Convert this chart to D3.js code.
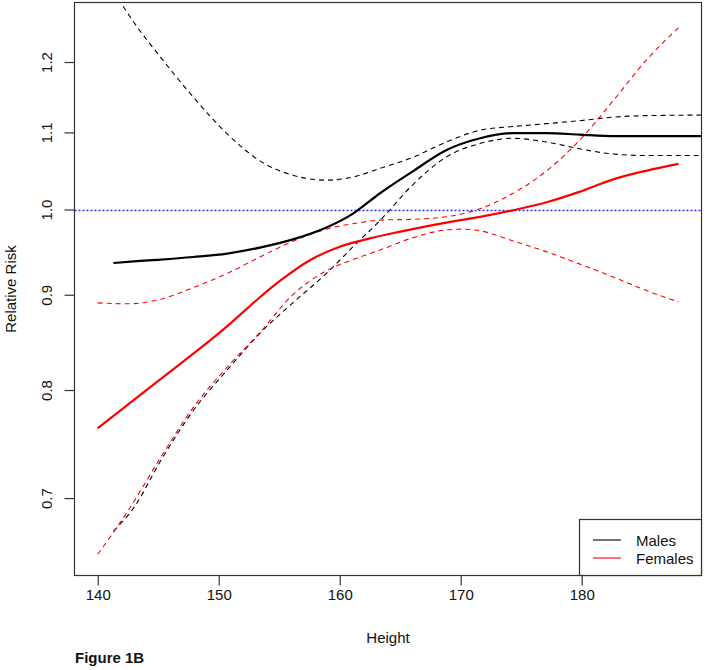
<!DOCTYPE html>
<html>
<head>
<meta charset="utf-8">
<script src="https://cdn.jsdelivr.net/npm/d3@7"></script>
<style>
  html, body { margin: 0; padding: 0; background: #fff; }
  svg { display: block; }
  text { font-family: "Liberation Sans", Arial, Helvetica, sans-serif; fill: #111; }
</style>
</head>
<body>
<svg id="chart" width="706" height="670"></svg>
<script>
// ---- Data ----
const xTicks = [140, 150, 160, 170, 180];
const yTicks = [0.7, 0.8, 0.9, 1.0, 1.1, 1.2];
const yTickLabels = ["0.7", "0.8", "0.9", "1.0", "1.1", "1.2"];

const maleHeight = [141.3, 143.0, 145.2, 147.9, 150.7, 153.4, 156.2, 158.9, 161.1, 163.3, 166.1, 168.8, 171.6, 174.3, 177.1, 179.8, 182.6, 185.3, 192.0];
const maleRR     = [0.936, 0.938, 0.940, 0.943, 0.947, 0.954, 0.964, 0.978, 0.995, 1.020, 1.049, 1.076, 1.092, 1.099, 1.099, 1.097, 1.095, 1.095, 1.095];
const maleUpper  = [1.310, 1.260, 1.207, 1.149, 1.098, 1.062, 1.043, 1.037, 1.041, 1.052, 1.067, 1.087, 1.103, 1.108, 1.112, 1.116, 1.121, 1.123, 1.124];
const maleLower  = [0.672, 0.692, 0.733, 0.780, 0.820, 0.858, 0.892, 0.924, 0.955, 0.986, 1.032, 1.067, 1.085, 1.092, 1.087, 1.078, 1.071, 1.069, 1.069];

const femaleHeight = [140.0, 142.5, 145.2, 147.9, 150.7, 153.4, 156.2, 158.9, 161.7, 163.3, 166.1, 168.8, 170.2, 171.6, 174.3, 177.1, 179.8, 182.6, 185.3, 188.0];
const femaleUpper  = [0.891, 0.890, 0.895, 0.908, 0.924, 0.943, 0.962, 0.976, 0.984, 0.987, 0.988, 0.991, 0.995, 1.001, 1.020, 1.049, 1.089, 1.144, 1.202, 1.252];
const femaleLower  = [0.653, 0.689, 0.736, 0.783, 0.823, 0.859, 0.901, 0.927, 0.943, 0.951, 0.966, 0.975, 0.976, 0.974, 0.962, 0.949, 0.935, 0.920, 0.905, 0.892];

const femaleRRHeight = [140.0, 145.0, 150.0, 155.0, 157.5, 160.0, 162.5, 165.0, 168.8, 171.6, 174.3, 177.1, 179.8, 182.6, 185.3, 188.0];
const femaleRR       = [0.763, 0.809, 0.858, 0.915, 0.939, 0.955, 0.965, 0.973, 0.984, 0.991, 0.999, 1.009, 1.022, 1.038, 1.049, 1.058];

const refLine = 1.0;
const legendLabels = ["Males", "Females"];
const legendColors = ["#000000", "#ff0000"];

// ---- Layout ----
const plot = { left: 74.5, right: 701.5, top: 2.5, bottom: 575.5 };
const svg = d3.select("#chart");

const x = d3.scaleLinear().domain([138.08, 189.9]).range([plot.left, plot.right]);
const y = d3.scaleLog().domain([0.6361, 1.2916]).range([plot.bottom, plot.top]);

svg.append("defs").append("clipPath").attr("id", "clip")
  .append("rect")
  .attr("x", plot.left).attr("y", plot.top)
  .attr("width", plot.right - plot.left).attr("height", plot.bottom - plot.top);

const g = svg.append("g").attr("clip-path", "url(#clip)");

function series(xs, ys) { return xs.map((d, i) => [d, ys[i]]); }
const line = d3.line().x(d => x(d[0])).y(d => y(d[1])).curve(d3.curveMonotoneX);

// reference line
const yRef = Math.round(y(refLine)) + 0.5;
g.append("line")
  .attr("x1", plot.left).attr("x2", plot.right)
  .attr("y1", yRef).attr("y2", yRef)
  .attr("stroke", "#2a2aff").attr("stroke-width", 1.3)
  .attr("stroke-dasharray", "2,2");

const curves = [
  { d: series(maleHeight, maleUpper), color: "#000", w: 1.1, dash: "5,4" },
  { d: series(maleHeight, maleLower), color: "#000", w: 1.1, dash: "5,4" },
  { d: series(femaleHeight, femaleUpper), color: "#ff0000", w: 1.1, dash: "5,4" },
  { d: series(femaleHeight, femaleLower), color: "#ff0000", w: 1.1, dash: "5,4" },
  { d: series(maleHeight, maleRR), color: "#000", w: 2.2, dash: null },
  { d: series(femaleRRHeight, femaleRR), color: "#ff0000", w: 2.2, dash: null }
];
curves.forEach(c => {
  g.append("path").attr("d", line(c.d))
    .attr("fill", "none").attr("stroke", c.color)
    .attr("stroke-width", c.w)
    .attr("stroke-dasharray", c.dash);
});

// box
svg.append("rect")
  .attr("x", plot.left).attr("y", plot.top)
  .attr("width", plot.right - plot.left).attr("height", plot.bottom - plot.top)
  .attr("fill", "none").attr("stroke", "#333").attr("stroke-width", 1.2);

// axes
const xAxis = d3.axisBottom(x).tickValues(xTicks).tickSize(10).tickPadding(4).tickFormat(d3.format("d"));
const xg = svg.append("g").attr("transform", `translate(0,${plot.bottom})`).call(xAxis);
xg.select(".domain").remove();
xg.selectAll(".tick line").attr("stroke", "#333").attr("stroke-width", 1.2);
xg.selectAll(".tick text").attr("font-size", 15).attr("font-family", "Liberation Sans, Arial, sans-serif").attr("fill", "#111");

const yAxis = d3.axisLeft(y).tickValues(yTicks).tickSize(10).tickFormat((d, i) => yTickLabels[i]);
const yg = svg.append("g").attr("transform", `translate(${plot.left},0)`).call(yAxis);
yg.select(".domain").remove();
yg.selectAll(".tick line").attr("stroke", "#333").attr("stroke-width", 1.2);
yg.selectAll(".tick text")
  .attr("font-size", 15).attr("font-family", "Liberation Sans, Arial, sans-serif").attr("fill", "#111")
  .attr("x", null).attr("dy", null)
  .attr("text-anchor", "middle")
  .attr("transform", "translate(-26,0) rotate(-90)")
  .attr("dominant-baseline", "middle");

// axis titles
svg.append("text").attr("x", 388).attr("y", 643).attr("text-anchor", "middle")
  .attr("font-size", 15).text("Height");
svg.append("text").attr("transform", "translate(16,289) rotate(-90)").attr("text-anchor", "middle")
  .attr("font-size", 15).text("Relative Risk");
svg.append("text").attr("x", 75).attr("y", 663)
  .attr("font-size", 15).attr("font-weight", "bold").text("Figure 1B");

// legend
const lg = svg.append("g");
lg.append("rect").attr("x", 579.5).attr("y", 519.5).attr("width", plot.right - 579.5).attr("height", plot.bottom - 519.5)
  .attr("fill", "#fff").attr("stroke", "#333").attr("stroke-width", 1.2);
legendLabels.forEach((lab, i) => {
  const yy = 540 + i * 18;
  lg.append("line").attr("x1", 593).attr("x2", 621).attr("y1", yy).attr("y2", yy)
    .attr("stroke", legendColors[i]).attr("stroke-width", 1.1);
  lg.append("text").attr("x", 636).attr("y", yy + 5.5).attr("font-size", 15).text(lab);
});
</script>
</body>
</html>
